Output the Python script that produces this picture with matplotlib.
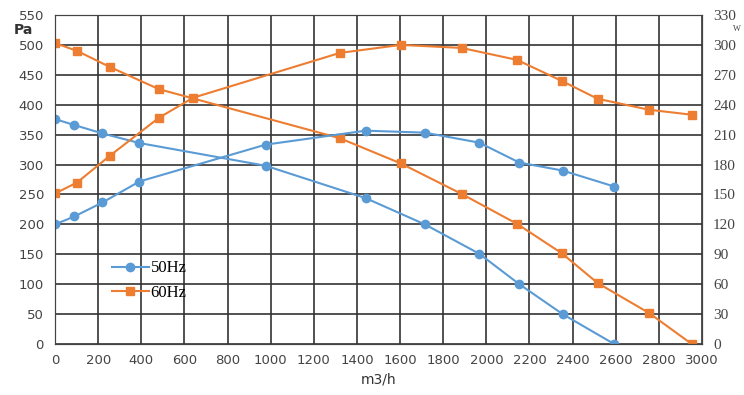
import matplotlib.pyplot as plt

# flow m3/h
flow_50_p = [0, 90, 220, 391, 977, 1440, 1715, 1967, 2153, 2354, 2593]
pa_50 = [376, 366, 352, 336, 298, 244, 200, 151, 100, 50, 0]
flow_50_w = [0, 90, 220, 391, 977, 1440, 1715, 1967, 2153, 2354, 2593]
w_50 = [120, 128, 142, 163, 200, 214, 212, 202, 182, 174, 158]

flow_60_p = [0, 102, 255, 482, 1321, 1603, 1885, 2142, 2349, 2516, 2754, 2953]
pa_60 = [503, 490, 463, 426, 344, 302, 251, 201, 152, 102, 52, 0]
flow_60_w = [0, 102, 255, 482, 640, 1321, 1603, 1885, 2142, 2349, 2516, 2754, 2953]
w_60 = [151, 162, 189, 227, 247, 292, 300, 297, 285, 264, 246, 235, 230]

blue = '#5B9BD5'
orange = '#ED7D31'

fig = plt.figure(figsize=(7.44, 3.95), dpi=100)
ax = fig.add_axes([0.074, 0.129, 0.8695, 0.833])
ax2 = ax.twinx()

l1, = ax.plot(flow_50_p, pa_50, color=blue, marker='o', ms=6, lw=1.5, label='50Hz')
l2, = ax.plot(flow_60_p, pa_60, color=orange, marker='s', ms=6, lw=1.5, label='60Hz')
ax2.plot(flow_50_w, w_50, color=blue, marker='o', ms=6, lw=1.5)
ax2.plot(flow_60_w, w_60, color=orange, marker='s', ms=6, lw=1.5)

ax.set_xlim(0, 3000)
ax.set_ylim(0, 550)
ax2.set_ylim(0, 330)
ax.set_xticks(range(0, 3001, 200))
ax.set_yticks(range(0, 551, 50))
ax2.set_yticks(range(0, 331, 30))
ax.grid(True, color='#333333', lw=1.2)
for a in (ax, ax2):
    a.tick_params(length=0, labelsize=9.5, colors='#444444')
    for s in a.spines.values():
        s.set_color('#444444')
ax.tick_params(axis='x', pad=7)
ax.tick_params(axis='y', pad=8)
for lab in ax2.get_yticklabels():
    lab.set_family('Liberation Serif')
    lab.set_fontsize(11)
ax2.tick_params(axis='y', pad=8)

fig.text(0.018, 0.915, 'Pa', fontsize=10, fontweight='bold', color='#333333')
fig.text(0.990, 0.926, 'W', fontsize=6, family='Liberation Serif', color='#444444',
         ha='center', va='center')
ax.set_xlabel('m3/h', fontsize=10, color='#333333', labelpad=4)

ax.legend(handles=[l1, l2], loc='upper left', bbox_to_anchor=(0.065, 0.3),
          frameon=False, prop={'family': 'Liberation Serif', 'size': 12},
          handlelength=2.2, handletextpad=0.1, labelspacing=0.5)

fig.savefig('out.png')
